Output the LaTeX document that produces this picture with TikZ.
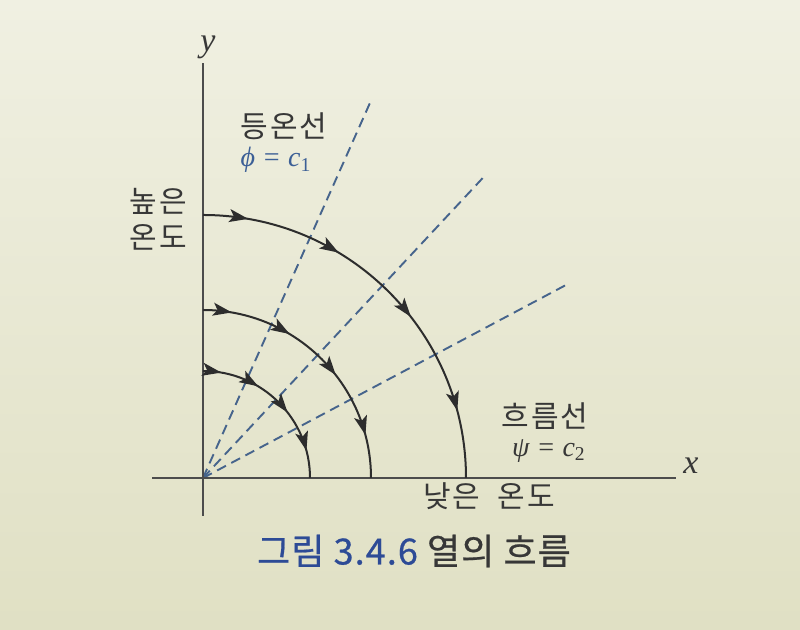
\documentclass[tikz,border=0pt]{standalone}
\usepackage{fontspec}
\setmainfont{Liberation Serif}
\newfontfamily\kr{Noto Sans CJK KR}[LetterSpace=7]
\newfontfamily\krcap{Noto Sans CJK KR}[FakeBold=0.6,LetterSpace=3]
\usetikzlibrary{decorations.markings,arrows.meta}
\definecolor{bgtop}{RGB}{240,240,226}
\definecolor{bgbot}{RGB}{224,224,196}
\definecolor{linec}{RGB}{45,45,45}
\definecolor{dashc}{RGB}{70,100,140}
\definecolor{bluet}{RGB}{60,95,150}
\definecolor{capblue}{RGB}{45,75,150}
\definecolor{txtc}{RGB}{55,55,55}
\tikzset{
  axis/.style={line width=1.2pt, draw=linec!85},
  flow/.style={line width=1pt, draw=linec,
    postaction={decorate},
    decoration={markings,
      mark=at position 0.11 with {\arrow{Stealth[length=9.5pt,width=6.5pt,inset=2.2pt]}},
      mark=at position 0.345 with {\arrow{Stealth[length=9.5pt,width=6.5pt,inset=2.2pt]}},
      mark=at position 0.58 with {\arrow{Stealth[length=9.5pt,width=6.5pt,inset=2.2pt]}},
      mark=at position 0.835 with {\arrow{Stealth[length=9.5pt,width=6.5pt,inset=2.2pt]}}}},
  iso/.style={line width=0.95pt, draw=dashc, dash pattern=on 5pt off 3pt},
  krlabel/.style={font=\kr\fontsize{15}{18}\selectfont, text=txtc, inner sep=0pt},
  mathlabel/.style={font=\itshape\fontsize{14}{16}\selectfont, inner sep=0pt},
}
\begin{document}
\begin{tikzpicture}[x=0.5pt,y=0.5pt]
\useasboundingbox (0,0) rectangle (800,630);
\shade[top color=bgtop, bottom color=bgbot] (0,0) rectangle (800,630);
% origin and axes
\coordinate (O) at (203,152);
\coordinate (xl) at (152,152);
\coordinate (xr) at (676,152);
\coordinate (yb) at (203,114);
\coordinate (yt) at (203,567);
% dashed isotherms
\draw[iso] (O) -- ++(66:413) coordinate (d1);
\draw[iso] (O) -- ++(47:413) coordinate (d2);
\draw[iso] (O) -- ++(28:413) coordinate (d3);
% axes
\draw[axis] (xl) -- (xr);
\draw[axis] (yb) -- (yt);
% flow lines
\coordinate (a1) at (203,415);
\coordinate (a2) at (203,320);
\coordinate (a3) at (203,259);
\draw[flow] (a1) arc[start angle=90, end angle=0, radius=263] coordinate (b1);
\draw[flow] (a2) arc[start angle=90, end angle=0, radius=168] coordinate (b2);
\draw[flow] (a3) arc[start angle=90, end angle=0, radius=107] coordinate (b3);
% labels
\node[mathlabel, font=\itshape\fontsize{17}{19}\selectfont, text=txtc] (ylab) at (208,583) {y};
\node[mathlabel, font=\itshape\fontsize{17}{19}\selectfont, text=txtc] (xlab) at (691,164) {x};
\node[krlabel] (iso) at (284,504) {등온선};
\node[mathlabel, text=bluet] (phi) at (276,470) {ϕ = c\textsubscript{\upshape 1}};
\node[krlabel, align=center] (high) at (158,411) {높은\\온도};
\node[krlabel] (str) at (545,214) {흐름선};
\node[mathlabel, text=txtc] (psi) at (549,179) {ψ = c\textsubscript{\upshape 2}};
\node[krlabel] (low) at (489,134) {낮은\hspace{4pt} 온도};
\node[inner sep=0pt, font=\krcap\fontsize{18}{21}\selectfont] (cap) at (414,79) {\textcolor{capblue}{그림 3.4.6} \textcolor{txtc}{열의 흐름}};
\end{tikzpicture}
\end{document}
